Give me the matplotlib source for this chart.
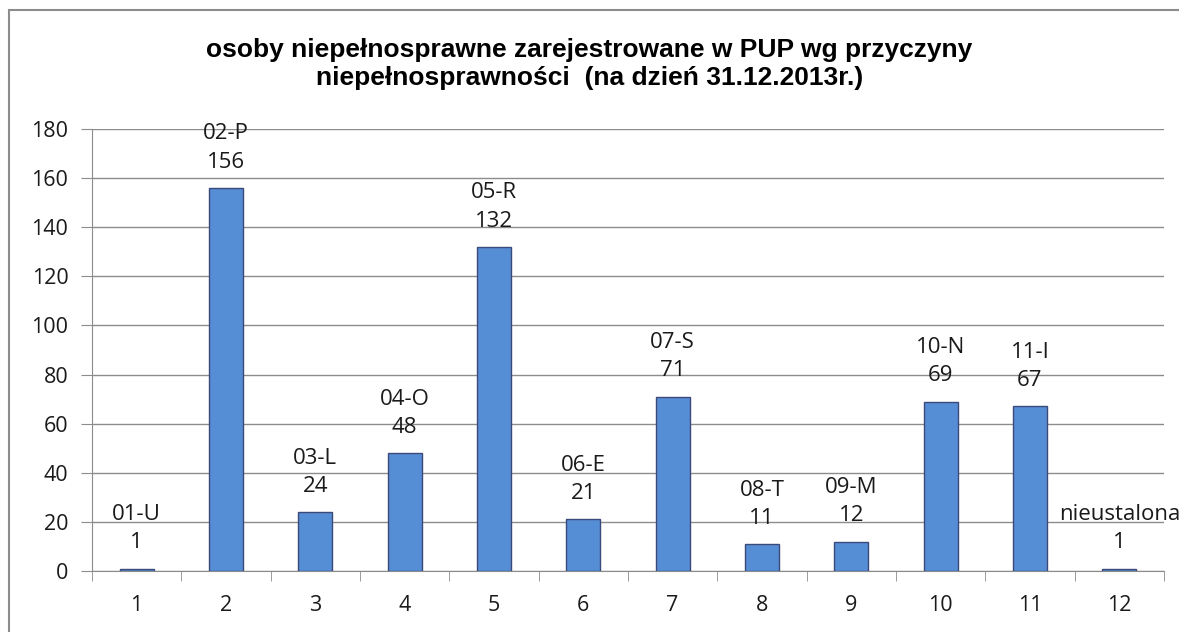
import matplotlib.pyplot as plt
from matplotlib.patches import Rectangle

categories = [1, 2, 3, 4, 5, 6, 7, 8, 9, 10, 11, 12]
values = [1, 156, 24, 48, 132, 21, 71, 11, 12, 69, 67, 1]
codes = ['01-U', '02-P', '03-L', '04-O', '05-R', '06-E', '07-S', '08-T', '09-M', '10-N', '11-I', 'nieustalona']
title = 'osoby niepełnosprawne zarejestrowane w PUP wg przyczyny\nniepełnosprawności  (na dzień 31.12.2013r.)'

fig = plt.figure(figsize=(11.79, 6.32), dpi=100)
fig.patches.append(Rectangle((9 / 1179, -0.1), 1.2, 1 - 10 / 632 + 0.1, transform=fig.transFigure,
                             fill=False, edgecolor='#8c8c8c', linewidth=1.5))
ax = fig.add_axes([92 / 1179, 61 / 632, 1072 / 1179, 442 / 632])

x = list(range(len(categories)))
ax.bar(x, values, width=0.38, color='#558ed5', edgecolor='#3b4a7a', linewidth=1, zorder=3)
for xi, v, c in zip(x, values, codes):
    # etykieta: kod przyczyny + liczba osób
    ax.annotate(f'{c}\n{v}', (xi, v), xytext=(0, 11), textcoords='offset points',
                ha='center', va='bottom', fontsize=16, family='Open Sans',
                linespacing=1.45, color='#1a1a1a', annotation_clip=False)

ax.set_xlim(-0.5, len(categories) - 0.5)
ax.set_ylim(0, 180)
ax.set_yticks(range(0, 181, 20))
ax.set_xticks(x)
ax.set_xticklabels([str(c) for c in categories])
ax.set_xticks([i - 0.5 for i in range(len(categories) + 1)], minor=True)
ax.tick_params(axis='x', which='major', length=0, pad=17, labelsize=15.5)
ax.tick_params(axis='x', which='minor', length=7, color='#8c8c8c', direction='out')
ax.tick_params(axis='y', length=8, color='#8c8c8c', pad=9, labelsize=15.5)
for lbl in ax.get_xticklabels() + ax.get_yticklabels():
    lbl.set_family('Open Sans')
    lbl.set_color('#1a1a1a')
ax.grid(axis='y', color='#8c8c8c', linewidth=1, zorder=0)
for s in ['top', 'right']:
    ax.spines[s].set_visible(False)
ax.spines['left'].set_color('#8c8c8c')
ax.spines['bottom'].set_color('#8c8c8c')

fig.text(0.5, 1 - 64 / 632, title, ha='center', va='center', fontsize=19, fontweight='bold',
         family='Liberation Sans', linespacing=1.2)

fig.savefig('out.png', dpi=100)
